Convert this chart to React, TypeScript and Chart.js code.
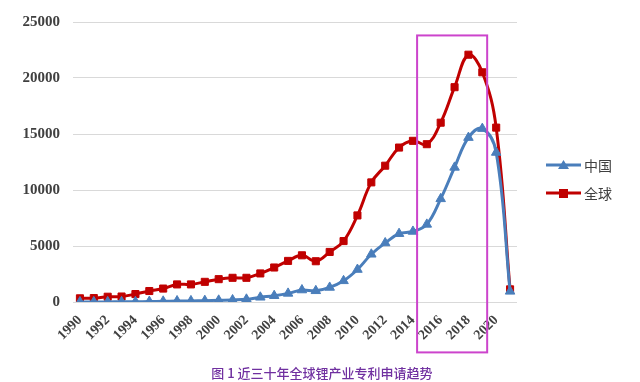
import React, { useEffect, useRef } from "react";
import { Chart, registerables } from "chart.js";

Chart.register(...registerables);

const years: string[] = [];
for (let y = 1990; y <= 2021; y++) years.push(String(y));

const chinaValues = [5, 8, 10, 15, 20, 40, 60, 90, 100, 120, 150, 180, 240, 420, 560, 770, 1070, 1000, 1300, 1890, 2900, 4260, 5270, 6100, 6300, 6930, 9210, 12020, 14680, 15480, 13350, 950];
const globalValues = [330, 350, 470, 490, 710, 980, 1200, 1570, 1570, 1800, 2040, 2160, 2160, 2550, 3080, 3670, 4170, 3640, 4470, 5440, 7730, 10680, 12170, 13790, 14390, 14090, 16010, 19180, 22080, 20510, 15570, 1130];
const yTicks = [0, 5000, 10000, 15000, 20000, 25000];
// highlight box: category index range and value range
const highlightX = [24.3, 29.35];
const highlightY = [23800, -4500];

const seriesNames = ["中国", "全球"];
const caption = "图 1 近三十年全球锂产业专利申请趋势";

const BLUE = "#4A7EBB";
const RED = "#C00000";

export default function App() {
  const ref = useRef<HTMLCanvasElement>(null);
  useEffect(() => {
    if (!ref.current) return;
    const boxPlugin = {
      id: "box",
      afterDatasetsDraw(chart: any) {
        const xs = chart.scales.x;
        const ys = chart.scales.y;
        const x0 = xs.getPixelForValue(highlightX[0]);
        const x1 = xs.getPixelForValue(highlightX[1]);
        const y0 = ys.getPixelForValue(highlightY[0]);
        const y1 = ys.getPixelForValue(highlightY[1]);
        const ctx = chart.ctx;
        ctx.save();
        ctx.strokeStyle = "#CC44CC";
        ctx.lineWidth = 2;
        ctx.strokeRect(x0, y0, x1 - x0, y1 - y0);
        ctx.restore();
      },
    };
    const chart = new Chart(ref.current, {
      type: "line",
      data: {
        labels: years,
        datasets: [
          {
            label: seriesNames[0],
            data: chinaValues,
            borderColor: BLUE,
            backgroundColor: BLUE,
            borderWidth: 3,
            pointStyle: "triangle",
            pointRadius: 5.5,
            pointBorderWidth: 1,
            tension: 0.4,
          },
          {
            label: seriesNames[1],
            data: globalValues,
            borderColor: RED,
            backgroundColor: RED,
            borderWidth: 3,
            pointStyle: "rect",
            pointRadius: 5,
            pointBorderWidth: 1,
            tension: 0.4,
          },
        ],
      },
      options: {
        animation: false,
        responsive: false,
        layout: { padding: { top: 20, left: 0, right: 123, bottom: 0 } },
        plugins: { legend: { display: false }, tooltip: { enabled: false } },
        scales: {
          x: {
            offset: true,
            grid: { display: false },
            border: { display: false },
            ticks: {
              autoSkip: false,
              maxRotation: 45,
              minRotation: 45,
              padding: 2,
              color: "#404040",
              font: { family: "'Liberation Serif', 'Times New Roman', serif", size: 14, weight: "bold" },
              callback: (v: any, i: number) => (i % 2 === 0 ? years[i] : ""),
            },
            afterFit: (s: any) => {
              s.height = 80;
            },
          },
          y: {
            min: 0,
            max: 25000,
            afterBuildTicks: (s: any) => {
              s.ticks = yTicks.map((v) => ({ value: v }));
            },
            grid: { color: "#D9D9D9", lineWidth: 1, drawTicks: false },
            border: { display: false },
            ticks: {
              padding: 13,
              color: "#404040",
              font: { family: "'Liberation Serif', 'Times New Roman', serif", size: 15, weight: "bold" },
              callback: (v: any) => String(v),
            },
            afterFit: (s: any) => {
              s.width = 73;
            },
          },
        },
      },
      plugins: [boxPlugin],
    });
    return () => chart.destroy();
  }, []);

  const legendItem = (name: string, color: string, marker: React.ReactNode, top: number) => (
    <div style={{ position: "absolute", left: 546, top, display: "flex", alignItems: "center", height: 20 }}>
      <svg width={35} height={12} style={{ display: "block" }}>
        <line x1={0} y1={6} x2={35} y2={6} stroke={color} strokeWidth={3} />
        {marker}
      </svg>
      <span style={{ marginLeft: 3, fontFamily: "'Noto Sans CJK SC', sans-serif", fontSize: 14, color: "#404040", lineHeight: "20px" }}>{name}</span>
    </div>
  );

  return (
    <div style={{ position: "fixed", left: 0, top: 0, width: 640, height: 382, background: "#fff" }}>
      <canvas ref={ref} width={640} height={382} style={{ display: "block" }} />
      {legendItem(seriesNames[0], BLUE, <polygon points="17.5,1 23,10 12,10" fill={BLUE} />, 155)}
      {legendItem(seriesNames[1], RED, <rect x={13} y={2} width={9} height={9} fill={RED} />, 183)}
      <div
        style={{
          position: "absolute",
          left: 0,
          width: 644,
          top: 364,
          textAlign: "center",
          fontFamily: "'Noto Sans CJK SC', sans-serif",
          fontSize: 13,
          fontWeight: 500,
          color: "#7030A0",
          lineHeight: "18px",
        }}
      >
        {caption}
      </div>
    </div>
  );
}
